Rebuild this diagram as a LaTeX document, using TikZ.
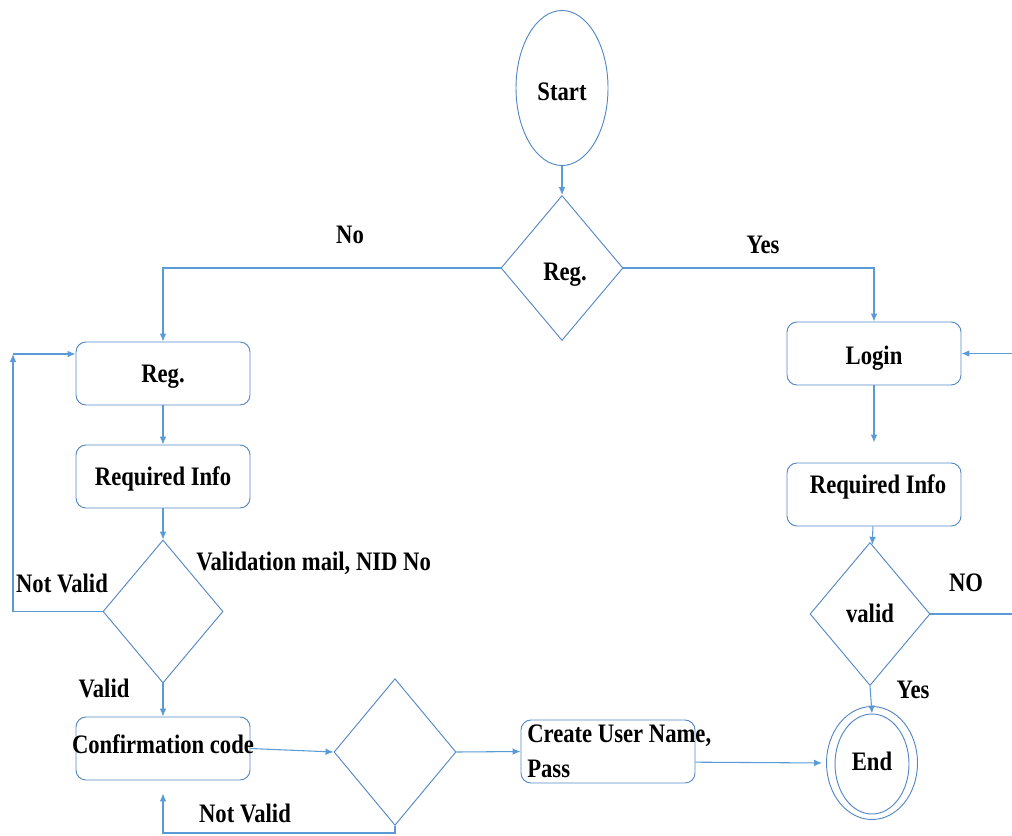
\documentclass[tikz,border=0pt]{standalone}
\usepackage{fontspec}
\setmainfont{Liberation Serif}[FakeStretch=0.85]
\usetikzlibrary{shapes.geometric,arrows.meta}
\definecolor{flowline}{RGB}{91,155,213}
\definecolor{flowedge}{RGB}{84,136,196}
\begin{document}
\begin{tikzpicture}[x=0.75pt,y=-0.75pt,
  every node/.style={font=\fontsize{20}{26}\selectfont\bfseries},
  arr/.style={draw=flowline, line width=0.8pt, -{Latex[length=6pt,width=5pt]}},
  shape text/.style={text height=#1, text depth=0pt},
  shape text/.default=13.2pt,
  box/.style={draw=flowedge, line width=0.7pt, rounded corners=7.5pt,
    minimum width=130.5pt, minimum height=47.25pt, inner sep=0pt, shape text},
  decision/.style={draw=flowedge, line width=0.7pt, diamond, inner sep=0pt,
    minimum width=90pt, minimum height=107.25pt, shape text},
  oval/.style={draw=flowedge, line width=0.7pt, ellipse, inner sep=0pt, shape text},
  tag/.style={inner sep=0pt}
]
\useasboundingbox (0,0) rectangle (1012,835);
\clip (0,0) rectangle (1012,835);

% main decision
\node[oval, minimum width=69pt, minimum height=116.25pt, shape text=19.2pt] (start) at (562,88) {Start};
\node[decision, minimum width=91.5pt, minimum height=108.75pt, shape text=19.2pt] (choose) at (562,268) {\hspace{4.5pt}Reg.};

% registration branch
\node[box] (reg) at (163,373.5) {Reg.};
\node[box] (reqL) at (163,476.5) {Required Info};
\node[decision] (check) at (163,611.5) {};
\node[box, label={[yshift=3pt]center:Confirmation code}] (conf) at (163,748.5) {};
\node[decision, minimum width=91.5pt, minimum height=110pt] (code) at (395,752) {};
\node[box, label={[anchor=west, align=left, xshift=1.5pt]west:Create User Name,\\Pass}] (create) at (608,751.5) {};

% login branch
\node[box, shape text=17pt] (login) at (874,353.5) {Login};
\node[box, label={[xshift=3pt, yshift=6pt]center:Required Info}] (reqR) at (874,494.5) {};
\node[decision] (valid) at (870,614) {valid};
\node[oval, minimum width=68.25pt, minimum height=84.75pt] (endout) at (872,763) {};
\node[oval, minimum width=55.5pt, minimum height=75pt, shape text=10.2pt] (endin) at (872,764) {End};

% loop corners
\coordinate (loopA) at (13,611.5);
\coordinate (loopB) at (13,354);
\coordinate (loopC) at (163,833);
\coordinate (noA) at (1016,614);
\coordinate (noB) at (1016,353.5);

% connectors
\draw[arr] (start) -- (choose);
\draw[arr] (choose.west) -| (reg.north);
\draw[arr] (choose.east) -| (login.north);
\draw[arr] (reg) -- (reqL);
\draw[arr] (reqL) -- (check);
\draw[arr] (check.west) -- (loopA) -- (loopB);
\draw[arr] (loopB) -- (reg.west |- loopB);
\draw[arr] (check) -- (conf);
\draw[arr] (conf.east) -- (code.west);
\draw[arr] (code.east) -- (create.west);
\draw[arr, shorten >=9.75pt] (code.south) -- (code.south |- loopC) -- (loopC) -- (conf.south);
\draw[arr, shorten >=3pt] ([yshift=-8pt]create.east) -- (endout.west);
\draw[arr, shorten >=15pt] (login) -- (reqR);
\draw[arr] (reqR) -- (valid);
\draw[arr] (valid.south) -- (endin.north);
\draw[arr] (valid.east) -- (noA) -- (noB) -- (login.east |- noB);

% branch labels
\node[tag] (lNo) at (350,235) {No};
\node[tag] (lYes) at (763,245) {Yes};
\node[tag, anchor=west] (lmail) at (196,563) {Validation mail, NID No};
\node[tag] (lnv1) at (62,583) {Not Valid};
\node[tag] (lvalid) at (104,688) {Valid};
\node[tag] (lnv2) at (245,813) {Not Valid};
\node[tag] (lNO) at (966,583) {NO};
\node[tag] (lYes2) at (913,690) {Yes};
\end{tikzpicture}
\end{document}
